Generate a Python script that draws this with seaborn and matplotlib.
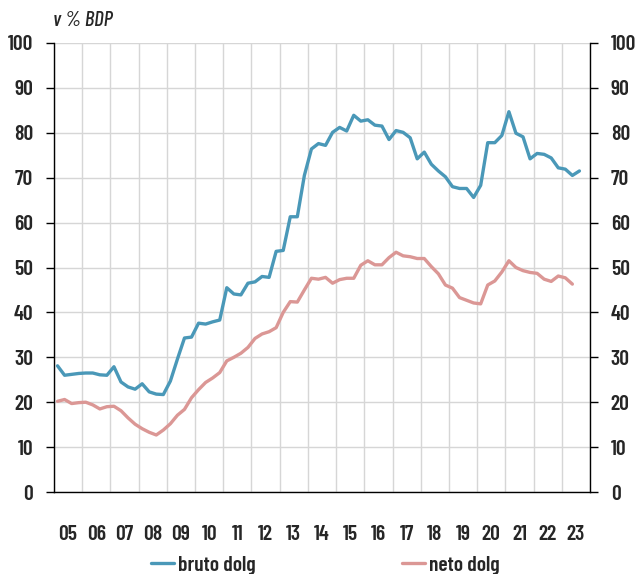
import numpy as np
import pandas as pd
import matplotlib
matplotlib.use("Agg")
import matplotlib.pyplot as plt
import seaborn as sns

# quarterly data, 2005Q1 onwards
start_year = 2005
bruto = [28.1, 26.0, 26.2, 26.4,
         26.5, 26.5, 26.1, 26.0,
         27.9, 24.5, 23.4, 22.9,
         24.1, 22.3, 21.8, 21.7,
         24.7, 29.6, 34.3, 34.5,
         37.6, 37.4, 37.9, 38.3,
         45.5, 44.1, 43.9, 46.5,
         46.8, 48.0, 47.8, 53.6,
         53.8, 61.3, 61.3, 70.5,
         76.4, 77.6, 77.2, 80.1,
         81.2, 80.4, 83.9, 82.6,
         82.9, 81.7, 81.5, 78.5,
         80.5, 80.1, 78.9, 74.2,
         75.7, 73.0, 71.5, 70.2,
         68.0, 67.6, 67.6, 65.6,
         68.3, 77.8, 77.8, 79.4,
         84.7, 79.9, 79.1, 74.2,
         75.4, 75.2, 74.4, 72.2,
         71.9, 70.5, 71.5]
neto = [20.2, 20.6, 19.7, 19.9,
        20.0, 19.4, 18.5, 19.0,
        19.1, 18.1, 16.5, 15.1,
        14.1, 13.3, 12.7, 13.8,
        15.2, 17.1, 18.4, 21.0,
        22.8, 24.4, 25.4, 26.6,
        29.2, 30.0, 30.9, 32.2,
        34.2, 35.2, 35.7, 36.6,
        40.0, 42.4, 42.3, 45.0,
        47.6, 47.4, 47.8, 46.5,
        47.3, 47.6, 47.6, 50.5,
        51.5, 50.6, 50.6, 52.2,
        53.4, 52.6, 52.4, 52.0,
        52.0, 50.2, 48.6, 46.1,
        45.4, 43.3, 42.7, 42.1,
        41.9, 46.1, 47.0, 49.0,
        51.5, 50.0, 49.3, 48.9,
        48.7, 47.4, 46.9, 48.1,
        47.7, 46.3]
series_names = ["bruto dolg", "neto dolg"]
year_labels = ["05", "06", "07", "08", "09", "10", "11", "12", "13", "14",
               "15", "16", "17", "18", "19", "20", "21", "22", "23"]
y_ticks = [0, 10, 20, 30, 40, 50, 60, 70, 80, 90, 100]
unit_label = "v % BDP"

def quarter_time(n):
    idx = np.arange(n)
    return start_year + idx // 4 + ((idx % 4) + 0.5) / 4

df = pd.concat([
    pd.DataFrame({"t": quarter_time(len(bruto)), "val": bruto, "serija": series_names[0]}),
    pd.DataFrame({"t": quarter_time(len(neto)), "val": neto, "serija": series_names[1]}),
])

sns.set_style("white")
plt.rcParams["font.family"] = ["Barlow Condensed", "DejaVu Sans"]
FS = 15.5

fig = plt.figure(figsize=(6.41, 5.74), dpi=100)
ax = fig.add_axes([54 / 641, 1 - 492 / 574, 536 / 641, 449 / 574])

palette = {"bruto dolg": "#4a98b8", "neto dolg": "#db9795"}
sns.lineplot(data=df, x="t", y="val", hue="serija", palette=palette,
             linewidth=2.4, ax=ax, legend=False)

n_years = len(year_labels)
ax.set_xlim(start_year, start_year + n_years)
ax.set_ylim(0, 100)
ax.set_xticks(np.arange(start_year, start_year + n_years + 1))
ax.set_xticklabels([])
ax.set_xticks(np.arange(n_years) + start_year + 0.5, minor=True)
ax.set_xticklabels(year_labels, minor=True)
ax.set_yticks(y_ticks)
ax.set_yticklabels([str(v) for v in y_ticks])
ax.set_xlabel("")
ax.set_ylabel("")

ax.grid(True, which="major", color="#d6d6d6", linewidth=1.0)
ax.set_axisbelow(True)
for side in ["left", "right", "bottom"]:
    ax.spines[side].set_visible(True)
    ax.spines[side].set_color("black")
    ax.spines[side].set_linewidth(1.0)
ax.spines["top"].set_visible(False)

ax.tick_params(axis="x", which="major", direction="out", length=6, width=1, color="black")
ax.tick_params(axis="x", which="minor", length=0, pad=24, labelsize=FS)
ax.tick_params(axis="y", direction="out", length=6, width=1, color="black",
               left=True, right=True, labelleft=True, labelright=True,
               pad=9, labelsize=FS)
for lab in ax.get_xticklabels(minor=True) + ax.yaxis.get_ticklabels(which="both"):
    lab.set_fontweight("semibold")
for lab in ax.yaxis.get_majorticklabels():
    lab.set_fontweight("semibold")

fig.text(53 / 641, 1 - 21 / 574, unit_label, fontsize=15, style="italic",
         fontweight="medium", ha="left", va="center")

handles = [plt.Line2D([], [], color=palette[s], linewidth=2.4) for s in series_names]
fig.legend(handles, series_names, loc="center", bbox_to_anchor=(0.507, 1 - 565 / 574),
           ncol=2, frameon=False, handlelength=1.1, handletextpad=0.15,
           columnspacing=6.8, prop={"family": "Barlow Condensed", "weight": "semibold", "size": FS})

fig.savefig("out.png", dpi=100)
